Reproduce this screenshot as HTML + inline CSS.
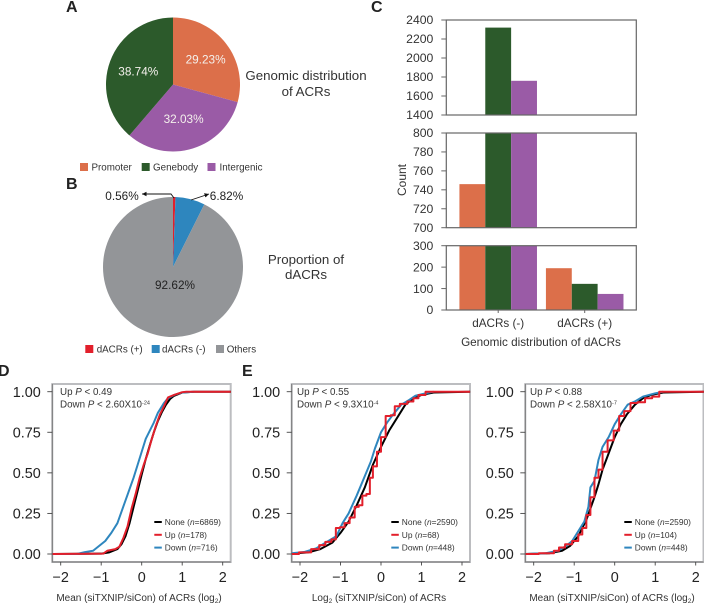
<!DOCTYPE html>
<html>
<head>
<meta charset="utf-8">
<title>dACR figure</title>
<style>
html,body{margin:0;padding:0;background:#fff;width:704px;height:605px;overflow:hidden}
svg{display:block;font-family:"Liberation Sans",sans-serif;fill:#333}
</style>
</head>
<body>
<svg id="fig" width="704" height="605" viewBox="0 0 704 605" xmlns="http://www.w3.org/2000/svg">
<defs>
<marker id="ah" markerWidth="6" markerHeight="6" refX="5" refY="2.5" orient="auto"><path d="M0,0 L5,2.5 L0,5 Z" fill="#111"/></marker>
</defs>
<g font-weight="bold" font-size="16" fill="#222">
<text x="66" y="12">A</text>
<text x="66" y="189">B</text>
<text x="371" y="12">C</text>
<text x="-2" y="376">D</text>
<text x="242" y="376">E</text>
</g>
<g id="pieA"></g>
<g id="pieB"></g>
<g font-size="13.3" text-anchor="middle" fill="#333">
<text x="306" y="80">Genomic distribution</text>
<text x="306" y="96">of ACRs</text>
<text x="306" y="264">Proportion of</text>
<text x="306" y="279">dACRs</text>
</g>
<polyline points="174,198 171,194 142,194" fill="none" stroke="#111" stroke-width="0.9" marker-end="url(#ah)"/>
<line x1="191" y1="200" x2="209" y2="194" stroke="#111" stroke-width="0.9" marker-end="url(#ah)"/>
<g id="barChart"></g>
<text font-size="12" text-anchor="middle" transform="translate(406,180) rotate(-90)">Count</text>
<text font-size="11.7" text-anchor="middle" x="541" y="346">Genomic distribution of dACRs</text>
<g id="cdfD"></g>
<g id="cdfE"></g>
<g id="cdfF"></g>
<g font-size="10" text-anchor="middle" fill="#333">
<text x="139" y="601">Mean (siTXNIP/siCon) of ACRs (log<tspan font-size="6.5" dy="2">2</tspan><tspan dy="-2">)</tspan></text>
<text x="379" y="601">Log<tspan font-size="6.5" dy="2">2</tspan><tspan dy="-2"> (siTXNIP/siCon) of ACRs</tspan></text>
<text x="612" y="601">Mean (siTXNIP/siCon) of ACRs (log<tspan font-size="6.5" dy="2">2</tspan><tspan dy="-2">)</tspan></text>
</g>
<g font-size="9.8" fill="#333">
<text x="60" y="395">Up <tspan font-style="italic">P</tspan> &lt; 0.49</text>
<text x="60" y="407.5">Down <tspan font-style="italic">P</tspan> &lt; 2.60X10<tspan font-size="5.5" dy="-3">-24</tspan></text>
<text x="297" y="395">Up <tspan font-style="italic">P</tspan> &lt; 0.55</text>
<text x="297" y="407.5">Down <tspan font-style="italic">P</tspan> &lt; 9.3X10<tspan font-size="5.5" dy="-3">-4</tspan></text>
<text x="530" y="395">Up <tspan font-style="italic">P</tspan> &lt; 0.88</text>
<text x="530" y="407.5">Down <tspan font-style="italic">P</tspan> &lt; 2.58X10<tspan font-size="5.5" dy="-3">-7</tspan></text>
</g>
<g id="pieLegends"></g>
<script>
// ---------- data ----------
const pieACategories = ['Promoter', 'Intergenic', 'Genebody'];
const pieAValues = [29.23, 32.03, 38.74];
const pieBCategories = ['dACRs (+)', 'dACRs (-)', 'Others'];
const pieBValues = [0.56, 6.82, 92.62];
const barCategories = ['dACRs (-)', 'dACRs (+)'];
const barSeriesNames = ['Promoter', 'Genebody', 'Intergenic'];
const barPromoter = [746, 195];
const barGenebody = [2320, 122];
const barIntergenic = [1760, 75];
const barTicksTop = [1400, 1600, 1800, 2000, 2200, 2400];
const barTicksMid = [700, 720, 740, 760, 780, 800];
const barTicksLow = [0, 100, 200, 300];
const cdfXTicks = [-2, -1, 0, 1, 2];
const cdfYTicks = [0, 0.25, 0.5, 0.75, 1];

const dNoneX = [-2.2,-1.0,-0.8,-0.6,-0.5,-0.4,-0.3,-0.2,-0.1,0,0.1,0.2,0.3,0.4,0.5,0.6,0.7,0.8,1.0,1.3,2.2];
const dNoneY = [0,0.002,0.01,0.03,0.06,0.11,0.19,0.29,0.39,0.49,0.585,0.67,0.75,0.82,0.875,0.92,0.955,0.975,0.995,1,1];
const dUpX = [-2.2,-0.95,-0.85,-0.65,-0.55,-0.45,-0.35,-0.25,-0.15,-0.05,0.05,0.15,0.25,0.35,0.45,0.55,0.65,0.8,1.0,1.1,2.2];
const dUpY = [0,0.002,0.02,0.03,0.045,0.1,0.17,0.28,0.37,0.47,0.55,0.62,0.71,0.79,0.86,0.91,0.965,0.98,0.997,1,1];
const dDownX = [-2.2,-1.6,-1.4,-1.2,-1.05,-0.9,-0.75,-0.6,-0.5,-0.4,-0.3,-0.2,-0.1,0,0.1,0.2,0.3,0.4,0.55,0.65,0.8,1.0,1.3];
const dDownY = [0,0,0.012,0.02,0.05,0.08,0.13,0.19,0.26,0.33,0.4,0.47,0.55,0.63,0.71,0.76,0.81,0.87,0.93,0.96,0.98,0.995,1];

const eNoneX = [-2.2,-1.8,-1.5,-1.2,-1,-0.8,-0.6,-0.4,-0.2,0,0.2,0.4,0.6,0.8,1,1.3,2.2];
const eNoneY = [0.002,0.01,0.03,0.07,0.13,0.2,0.3,0.41,0.55,0.66,0.76,0.84,0.92,0.96,0.98,0.995,1];
const eUpX = [-2.2,-1.85,-1.6,-1.45,-1.3,-1.15,-1.08,-0.95,-0.85,-0.7,-0.6,-0.5,-0.42,-0.3,-0.25,-0.15,-0.05,0.05,0.18,0.3,0.38,0.55,0.75,0.85,1.0,1.2,2.2];
const eUpY = [0,0.01,0.03,0.055,0.075,0.09,0.16,0.165,0.19,0.225,0.29,0.3,0.36,0.37,0.47,0.54,0.63,0.72,0.85,0.855,0.91,0.925,0.94,0.96,0.98,1,1];
const eDownX = [-2.2,-1.9,-1.6,-1.3,-1.1,-0.95,-0.8,-0.6,-0.4,-0.25,-0.15,0,0.15,0.3,0.5,0.7,0.85,1.1,1.3];
const eDownY = [0.005,0.012,0.035,0.08,0.11,0.19,0.25,0.36,0.48,0.57,0.65,0.75,0.81,0.86,0.92,0.95,0.975,0.99,1];

const fNoneX = [-2.2,-1.6,-1.3,-1.1,-0.9,-0.7,-0.5,-0.4,-0.3,-0.15,0,0.15,0.3,0.5,0.7,0.9,1.2,2.2];
const fNoneY = [0,0.005,0.02,0.05,0.11,0.21,0.35,0.43,0.52,0.62,0.72,0.8,0.86,0.92,0.96,0.98,0.995,1];
const fUpX = [-2.2,-1.55,-1.45,-1.3,-1.15,-0.95,-0.85,-0.75,-0.65,-0.55,-0.45,-0.35,-0.25,-0.1,0.05,0.17,0.3,0.48,0.65,0.85,1.0,1.2,2.2];
const fUpY = [0,0.005,0.02,0.04,0.06,0.08,0.12,0.16,0.24,0.35,0.47,0.52,0.63,0.7,0.76,0.85,0.88,0.93,0.935,0.96,0.97,1,1];
const fDownX = [-2.2,-1.7,-1.4,-1.2,-1.05,-0.9,-0.75,-0.65,-0.6,-0.5,-0.4,-0.3,-0.15,0,0.15,0.32,0.5,0.7,1.0,1.2];
const fDownY = [0,0.005,0.02,0.05,0.08,0.14,0.2,0.29,0.41,0.45,0.58,0.66,0.72,0.8,0.86,0.92,0.94,0.97,0.99,1];

const dLegend = ['None (n=6869)', 'Up (n=178)', 'Down (n=716)'];
const eLegend = ['None (n=2590)', 'Up (n=68)', 'Down (n=448)'];
const fLegend = ['None (n=2590)', 'Up (n=104)', 'Down (n=448)'];

// ---------- helpers ----------
const NS = 'http://www.w3.org/2000/svg';
const ORANGE = '#DC6F4A', GREEN = '#2C5A2B', PURPLE = '#9A5BA6';
const RED = '#E21F2B', BLUE = '#2E86BE', GREY = '#939598', BLACK = '#000';

function make(parent, tag, props, text) {
  const n = document.createElementNS(NS, tag);
  for (const k in props) n.setAttribute(k, props[k]);
  if (text !== undefined) n.textContent = text;
  parent.appendChild(n);
  return n;
}
function arcPath(cx, cy, r, f0, f1) {
  const a0 = f0 * 2 * Math.PI, a1 = f1 * 2 * Math.PI;
  const big = (f1 - f0) > 0.5 ? 1 : 0;
  return 'M' + cx + ',' + cy +
    ' L' + (cx + r * Math.sin(a0)) + ',' + (cy - r * Math.cos(a0)) +
    ' A' + r + ',' + r + ' 0 ' + big + ' 1 ' + (cx + r * Math.sin(a1)) + ',' + (cy - r * Math.cos(a1)) + ' Z';
}
function drawPie(parent, cx, cy, r, cats, vals, colors) {
  const total = vals.reduce((a, b) => a + b, 0);
  let acc = 0;
  const mids = [];
  vals.forEach((v, i) => {
    const f0 = acc / total;
    acc += v;
    const f1 = acc / total;
    const s = make(parent, 'path', { d: arcPath(cx, cy, r, f0, f1), fill: colors[i] });
    
    
    mids.push((f0 + f1) / 2);
  });
  return mids;
}

// ---------- pie A ----------
const pieAGroup = document.getElementById('pieA');
const pieAMids = drawPie(pieAGroup, 173, 84.5, 67, pieACategories, pieAValues, [ORANGE, PURPLE, GREEN]);
pieAValues.forEach((v, i) => {
  const a = pieAMids[i] * 2 * Math.PI;
  const rad = [41, 36, 37][i];
  const t = make(pieAGroup, 'text', {
    x: 173 + rad * Math.sin(a), y: 84.5 - rad * Math.cos(a) + 4,
    'text-anchor': 'middle', 'font-size': 11.8, fill: '#f4f0ec'
  }, v.toFixed(2) + '%');
  
  
});

// ---------- pie B ----------
const pieBGroup = document.getElementById('pieB');
drawPie(pieBGroup, 173, 267, 70, pieBCategories, pieBValues, [RED, BLUE, GREY]);
const pieBLabelSpots = [[122, 200], [226.5, 200], [175, 289]];
pieBValues.forEach((v, i) => {
  const t = make(pieBGroup, 'text', {
    x: pieBLabelSpots[i][0], y: pieBLabelSpots[i][1],
    'text-anchor': 'middle', 'font-size': 11.8, fill: '#222'
  }, v.toFixed(2) + '%');
  
  
});

// ---------- pie legends ----------
const legendGroup = document.getElementById('pieLegends');
function pieLegend(y, items) {
  items.forEach(it => {
    const sw = make(legendGroup, 'rect', { x: it[0], y: y - 4, width: 8, height: 8, fill: it[3] });
    
    
    const tx = make(legendGroup, 'text', { x: it[1], y: y + 3.4, 'font-size': 9.8, fill: '#333' }, it[2]);
    
    
  });
}
pieLegend(167, [[80, 91.5, 'Promoter', ORANGE], [141.7, 153, 'Genebody', GREEN], [207.5, 219.5, 'Intergenic', PURPLE]]);
pieLegend(349, [[85.3, 96.7, 'dACRs (+)', RED], [151.7, 162, 'dACRs (-)', BLUE], [216, 226.7, 'Others', GREY]]);

// ---------- bar chart ----------
const barGroup = document.getElementById('barChart');
const barLeft = 446.3, barRight = 636.3;
const barCenter = i => 498.2 + i * 86.5;
const barWidth = 25.85;
const barSeries = [barPromoter, barGenebody, barIntergenic];
const barColors = [ORANGE, GREEN, PURPLE];
function barPanel(top, bottom, ticks, showX) {
  const lo = ticks[0], hi = ticks[ticks.length - 1];
  const y = v => bottom - (v - lo) / (hi - lo) * (bottom - top);
  barSeries.forEach((vals, s) => {
    vals.forEach((v, c) => {
      if (v <= lo) return;
      const vy = y(Math.min(v, hi));
      const r = make(barGroup, 'rect', {
        x: barCenter(c) + (s - 1.5) * barWidth, y: vy,
        width: barWidth, height: bottom - vy, fill: barColors[s]
      });
      
      
    });
  });
  const frame = make(barGroup, 'rect', {
    x: barLeft, y: top, width: barRight - barLeft, height: bottom - top,
    fill: 'none', stroke: '#666', 'stroke-width': 1.2
  });
  
  
  ticks.forEach(t => {
    const m = make(barGroup, 'line', { x1: barLeft - 5, x2: barLeft, y1: y(t), y2: y(t), stroke: '#666', 'stroke-width': 1 });
    
    
    const l = make(barGroup, 'text', { x: barLeft - 13, y: y(t) + 4.2, 'text-anchor': 'end', 'font-size': 12.2, fill: '#333' }, String(t));
    
    
  });
  if (showX) {
    barCategories.forEach((c, i) => {
      const m = make(barGroup, 'line', { x1: barCenter(i), x2: barCenter(i), y1: bottom, y2: bottom + 3, stroke: '#666', 'stroke-width': 1 });
      
      
      const l = make(barGroup, 'text', { x: barCenter(i), y: bottom + 17, 'text-anchor': 'middle', 'font-size': 11.7, fill: '#333' }, c);
      
      
    });
  }
}
barPanel(20, 115, barTicksTop, false);
barPanel(133, 227.7, barTicksMid, false);
barPanel(245.7, 310, barTicksLow, true);

// ---------- CDF panels ----------
// Mid-point steps: the riser sits halfway between readings, so the stair does not lag the curve.
function stepPoints(xs, ys, sx, sy) {
  const out = [];
  xs.forEach((x, k) => {
    if (k > 0) {
      const mx = sx((xs[k - 1] + x) / 2).toFixed(2);
      out.push(mx + ',' + sy(ys[k - 1]).toFixed(2));
      out.push(mx + ',' + sy(ys[k]).toFixed(2));
    }
    out.push(sx(x).toFixed(2) + ',' + sy(ys[k]).toFixed(2));
  });
  return out.join(' ');
}
function cdfPanel(id, left, right, zero, series, legend, legendX, stepUp) {
  const g = document.getElementById(id);
  const top = 384, bottom = 562;
  const sx = v => zero + v * 40.5;
  const sy = v => 554 - v * 162.3;
  const bg = make(g, 'rect', { x: left, y: top, width: right - left, height: bottom - top, fill: '#fff', stroke: '#bcbdc0', 'stroke-width': 2 });
  
  
  const la = make(g, 'path', { d: 'M' + left + ',' + top + ' V' + bottom + ' H' + right, fill: 'none', stroke: '#777', 'stroke-width': 1 });
  
  
  cdfYTicks.forEach(t => {
    const m = make(g, 'line', { x1: left - 5, x2: left, y1: sy(t), y2: sy(t), stroke: '#444', 'stroke-width': 0.9 });
    
    
    const l = make(g, 'text', { x: left - 11.5, y: sy(t) + 5.2, 'text-anchor': 'end', 'font-size': 14.4, fill: '#222' }, t.toFixed(2));
    
    
  });
  cdfXTicks.forEach(t => {
    const m = make(g, 'line', { x1: sx(t), x2: sx(t), y1: bottom, y2: bottom + 3.5, stroke: '#444', 'stroke-width': 0.9 });
    
    
    const l = make(g, 'text', { x: sx(t), y: 582, 'text-anchor': 'middle', 'font-size': 14.4, fill: '#222' }, String(t).replace('-', '\u2212'));
    
    
  });
  const colors = [BLACK, BLUE, RED];
  const names = ['none', 'down', 'up'];
  series.forEach((s, i) => {
    const pts = (stepUp && i === 2)
      ? stepPoints(s[0], s[1], sx, sy)
      : s[0].map((x, k) => sx(x).toFixed(2) + ',' + sy(s[1][k]).toFixed(2)).join(' ');
    const p = make(g, 'polyline', { points: pts, fill: 'none', stroke: colors[i], 'stroke-width': 2, 'stroke-linejoin': 'round' });
    
    
  });
  const legColors = [BLACK, RED, BLUE];
  legend.forEach((txt, i) => {
    const ly = 522 + i * 12.8;
    const k = make(g, 'line', { x1: legendX, x2: legendX + 7.5, y1: ly, y2: ly, stroke: legColors[i], 'stroke-width': 2 });
    
    
    const parts = txt.split('n=');
    const t = make(g, 'text', { x: legendX + 10.5, y: ly + 3, 'font-size': 8.4, fill: '#333' });
    
    
    make(t, 'tspan', {}, parts[0]);
    make(t, 'tspan', { 'font-style': 'italic' }, 'n');
    make(t, 'tspan', {}, '=' + parts[1]);
  });
}
cdfPanel('cdfD', 52.3, 230.7, 141.7, [[dNoneX, dNoneY], [dDownX, dDownY], [dUpX, dUpY]], dLegend, 154.3, false);
cdfPanel('cdfE', 291.7, 470, 381, [[eNoneX, eNoneY], [eDownX, eDownY], [eUpX, eUpY]], eLegend, 391.3, true);
cdfPanel('cdfF', 525.3, 703.5, 614.7, [[fNoneX, fNoneY], [fDownX, fDownY], [fUpX, fUpY]], fLegend, 624.3, true);
</script>
</svg>
</body>
</html>
